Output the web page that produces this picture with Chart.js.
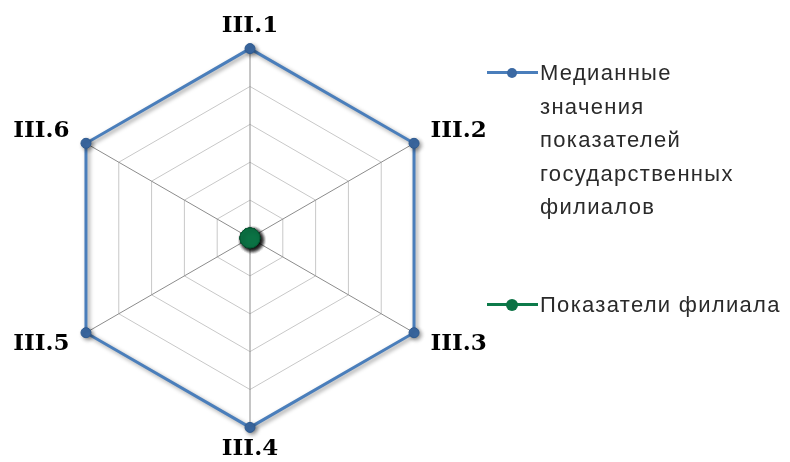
<!DOCTYPE html>
<html>
<head>
<meta charset="utf-8">
<script src="https://cdn.jsdelivr.net/npm/chart.js@4"></script>
<style>
    html, body { margin: 0; padding: 0; background: #fff; }
    #wrap { position: relative; width: 790px; height: 462px; overflow: hidden; }
    #chartBox { position: absolute; left: 0; top: 0; width: 500px; height: 462px; }
    .legend { position: absolute; left: 487px; font-family: "Liberation Sans", sans-serif; font-size: 22px; color: #2a2a2a; letter-spacing: 1.3px; }
    .legend .txt { position: absolute; left: 53px; top: 0; line-height: 33.5px; white-space: nowrap; }
    .legend .ln { position: absolute; left: 0; width: 51px; height: 3px; }
    .legend .dot { position: absolute; border-radius: 50%; }
</style>
</head>
<body>
<div id="wrap">
    <div id="chartBox"><canvas id="radar"></canvas></div>
    <div class="legend" id="legend"></div>
</div>
<script>
// 数据
const axisLabels = ['III.1', 'III.2', 'III.3', 'III.4', 'III.5', 'III.6'];
const medianValues = [5, 5, 5, 5, 5, 5];
const branchValues = [0, 0, 0, 0, 0, 0];
const medianName = ['Медианные', 'значения', 'показателей', 'государственных', 'филиалов'];
const branchName = ['Показатели филиала'];

const blue = '#4A7EBB';
const green = '#0D7A4A';

// 阴影插件
const shadowPlugin = {
    id: 'shadow',
    beforeDatasetsDraw(chart) {
        const c = chart.ctx;
        c.save();
        c.shadowColor = 'rgba(0,0,0,0.4)';
        c.shadowBlur = 4;
        c.shadowOffsetX = 2;
        c.shadowOffsetY = 2;
    },
    afterDatasetsDraw(chart) {
        chart.ctx.restore();
    }
};

new Chart(document.getElementById('radar'), {
    type: 'radar',
    data: {
        labels: axisLabels,
        datasets: [
            {
                label: medianName.join(' '),
                data: medianValues,
                borderColor: blue,
                borderWidth: 3,
                backgroundColor: 'transparent',
                fill: false,
                pointRadius: 5,
                pointBackgroundColor: '#3B69A3',
                pointBorderColor: '#2E5A90',
                pointBorderWidth: 1
            },
            {
                label: branchName.join(' '),
                data: branchValues,
                borderColor: green,
                borderWidth: 3,
                backgroundColor: 'transparent',
                fill: false,
                pointRadius: 10,
                pointBackgroundColor: '#0B7244',
                pointBorderColor: '#065A34',
                pointBorderWidth: 1
            }
        ]
    },
    options: {
        responsive: true,
        maintainAspectRatio: false,
        animation: false,
        layout: {
            padding: { top: 24, bottom: 9 }
        },
        plugins: {
            legend: { display: false },
            tooltip: { enabled: false }
        },
        scales: {
            r: {
                min: 0,
                max: 5,
                ticks: { display: false, stepSize: 1 },
                grid: { color: '#C8C8C8', lineWidth: 1 },
                angleLines: { color: '#8C8C8C', lineWidth: 1 },
                pointLabels: {
                    color: '#000',
                    font: { family: '"DejaVu Serif", serif', size: 23, weight: 'bold', lineHeight: 0.2 },
                    padding: ctx => ctx.index === 0 ? 20 : (ctx.index === 3 ? 19 : 19)
                }
            }
        }
    },
    plugins: [shadowPlugin]
});

// 图例
function addLegendItem(lines, color, dotColor, dotR, top) {
    const item = document.createElement('div');
    item.className = 'legend';
    item.style.left = '0px';
    item.style.top = top + 'px';

    const ln = document.createElement('div');
    ln.className = 'ln';
    ln.style.background = color;
    ln.style.top = '15px';
    item.appendChild(ln);

    const dot = document.createElement('div');
    dot.className = 'dot';
    dot.style.width = dot.style.height = (dotR * 2) + 'px';
    dot.style.left = (25 - dotR) + 'px';
    dot.style.top = (16.5 - dotR) + 'px';
    dot.style.background = dotColor;
    item.appendChild(dot);

    const txt = document.createElement('div');
    txt.className = 'txt';
    txt.innerHTML = lines.join('<br>');
    item.appendChild(txt);

    document.getElementById('legend').appendChild(item);
}

addLegendItem(medianName, blue, '#3B69A3', 5, 56);
addLegendItem(branchName, green, '#0B7244', 6, 288);
</script>
</body>
</html>
